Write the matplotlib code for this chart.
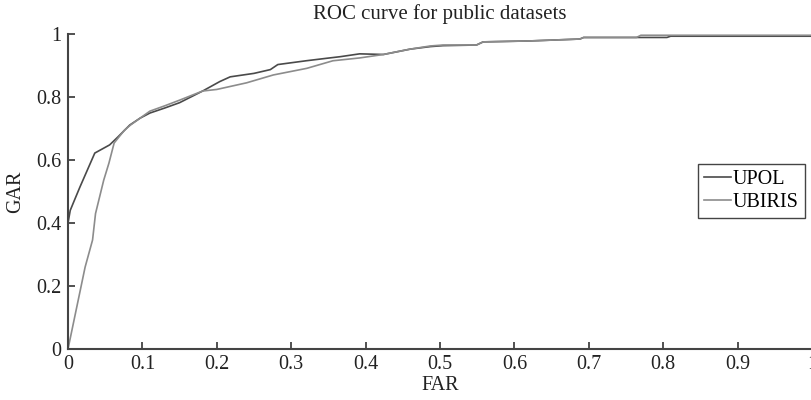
import matplotlib
matplotlib.use("Agg")
import matplotlib.pyplot as plt

plt.rcParams['font.family'] = ['Liberation Serif', 'DejaVu Serif']

# UPOL (dark curve)
upol_far = [0.0, 0.0, 0.003, 0.007, 0.016, 0.036, 0.056, 0.067, 0.083, 0.097, 0.11,
            0.13, 0.15, 0.181, 0.204, 0.218, 0.25, 0.272, 0.282, 0.32, 0.348, 0.366,
            0.392, 0.424, 0.46, 0.487, 0.504, 0.549, 0.558, 0.621, 0.688, 0.693,
            0.805, 0.81, 1.0]
upol_gar = [0.0, 0.40, 0.44, 0.463, 0.514, 0.622, 0.648, 0.673, 0.711, 0.733, 0.749,
            0.765, 0.782, 0.819, 0.849, 0.864, 0.875, 0.887, 0.903, 0.915, 0.923, 0.928,
            0.937, 0.935, 0.952, 0.960, 0.963, 0.965, 0.975, 0.978, 0.984, 0.989,
            0.989, 0.993, 0.993]

# UBIRIS (light curve)
ubiris_far = [0.0, 0.023, 0.033, 0.037, 0.048, 0.055, 0.062, 0.076, 0.084, 0.097, 0.11,
              0.13, 0.15, 0.181, 0.2, 0.24, 0.276, 0.321, 0.356, 0.392, 0.424, 0.46,
              0.487, 0.504, 0.549, 0.558, 0.621, 0.688, 0.693, 0.764, 0.77, 1.0]
ubiris_gar = [0.0, 0.26, 0.346, 0.43, 0.536, 0.59, 0.654, 0.695, 0.711, 0.733, 0.755,
              0.772, 0.79, 0.819, 0.824, 0.845, 0.870, 0.891, 0.915, 0.924, 0.935, 0.952,
              0.962, 0.965, 0.965, 0.975, 0.978, 0.984, 0.989, 0.989, 0.996, 0.996]

x_ticks = [0, 0.1, 0.2, 0.3, 0.4, 0.5, 0.6, 0.7, 0.8, 0.9, 1]
x_ticklabels = ['0', '0.1', '0.2', '0.3', '0.4', '0.5', '0.6', '0.7', '0.8', '0.9', '1']
y_ticks = [0, 0.2, 0.4, 0.6, 0.8, 1]
y_ticklabels = ['0', '0.2', '0.4', '0.6', '0.8', '1']

fig = plt.figure(figsize=(8.12, 4.0), dpi=100)
ax = fig.add_axes([68/812, 51/400, 744/812, 315/400])

ax.plot(upol_far, upol_gar, color='#4a4a4a', lw=1.2, label='UPOL')
ax.plot(ubiris_far, ubiris_gar, color='#8c8c8c', lw=1.2, label='UBIRIS')

ax.set_xlim(0, 1)
ax.set_ylim(0, 1)
ax.set_xticks(x_ticks)
ax.set_xticklabels(x_ticklabels)
ax.set_yticks(y_ticks)
ax.set_yticklabels(y_ticklabels)
ax.tick_params(direction='in', length=5, width=1.2, labelsize=14.5, colors='#333333',
               labelcolor='#222222')
ax.tick_params(axis='x', pad=4)
ax.tick_params(axis='y', pad=5)
for s in ['top', 'right']:
    ax.spines[s].set_visible(False)
for s in ['left', 'bottom']:
    ax.spines[s].set_color('#444444')
    ax.spines[s].set_linewidth(1.5)

ax.set_xlabel('FAR', fontsize=14.5, color='#222222', labelpad=2)
ax.set_ylabel('GAR', fontsize=14.5, color='#222222', labelpad=8)
ax.set_title('ROC curve for public datasets', fontsize=15, color='#222222', pad=11)

leg = ax.legend(loc='upper right', bbox_to_anchor=(0.99, 0.587), borderaxespad=0,
                fontsize=14.5, handlelength=1.3, handletextpad=0.1, fancybox=False,
                framealpha=1, edgecolor='#444444', borderpad=0.3, labelspacing=0.2)
leg.get_frame().set_linewidth(1.0)

fig.savefig('out.png', dpi=100)
